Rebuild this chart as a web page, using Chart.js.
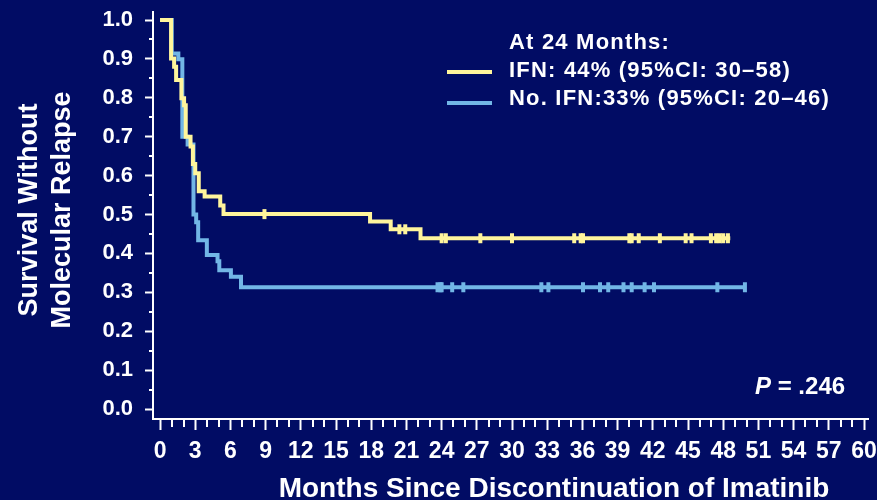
<!DOCTYPE html>
<html><head><meta charset="utf-8">
<script src="https://cdn.jsdelivr.net/npm/chart.js@4.4.1/dist/chart.umd.min.js"></script>
<style>html,body{margin:0;padding:0;background:#010c64;overflow:hidden}#wrap{width:877px;height:500px}</style>
</head><body><div id="wrap"><canvas id="c" width="877" height="500"></canvas></div>
<script>
// ---- data ----
const xTickValues = [0,3,6,9,12,15,18,21,24,27,30,33,36,39,42,45,48,51,54,57,60];
const yTickValues = [0,0.1,0.2,0.3,0.4,0.5,0.6,0.7,0.8,0.9,1.0];

const ifnTimes = [0, 0.94, 1.2, 1.37, 1.82, 2.05, 2.19, 2.6, 2.8, 3.0, 3.3, 3.8, 5.13, 5.41, 17.9, 19.66, 22.2, 48.6];
const ifnSurv  = [1.0, 0.901, 0.880, 0.846, 0.799, 0.781, 0.700, 0.675, 0.630, 0.606, 0.560, 0.546, 0.523, 0.501, 0.482, 0.462, 0.439, 0.439];
const ifnCensor = [8.9, 20.4, 20.9, 24.0, 24.36, 27.3, 30.0, 35.3, 35.85, 36.05, 40.0, 40.2, 40.8, 42.6, 44.8, 45.3, 46.95, 47.4, 47.7, 48.0, 48.4];

const noTimes = [0, 1.0, 1.56, 1.9, 2.35, 2.85, 3.08, 3.25, 3.99, 4.9, 5.05, 6.04, 6.9, 49.85];
const noSurv  = [1.0, 0.914, 0.899, 0.700, 0.680, 0.500, 0.480, 0.434, 0.396, 0.380, 0.357, 0.340, 0.313, 0.313];
const noCensor = [23.65, 23.9, 24.0, 24.9, 25.85, 32.5, 33.1, 36.05, 37.5, 38.2, 39.5, 40.2, 41.3, 42.1, 47.5, 49.85];

const seriesLabels = ['IFN: 44% (95%CI: 30\u201358)', 'No. IFN:33% (95%CI: 20\u201346)'];
const legendHeader = 'At 24 Months:';
const xTitle = 'Months Since Discontinuation of Imatinib';
const yTitle = ['Survival Without', 'Molecular Relapse'];
const pLabel = ['P', ' = .246'];

// ---- styles ----
const BG = '#010c64';
const YELLOW = '#fff59c';
const BLUE = '#72b6e6';
const WHITE = '#ffffff';
const FONT = '"Liberation Sans", Arial, sans-serif';

function survAt(times, surv, t) {
  let s = surv[0];
  for (let i = 0; i < times.length; i++) if (times[i] <= t) s = surv[i];
  return s;
}
const toPts = (ts, ss) => ts.map((t, i) => ({x: t, y: ss[i]}));
const censorPts = (cs, ts, ss) => cs.map(t => ({x: t, y: survAt(ts, ss, t)}));

const bgPlugin = {
  id: 'bg',
  beforeDraw(chart) {
    const c = chart.ctx;
    c.save(); c.fillStyle = BG; c.fillRect(0, 0, chart.width, chart.height); c.restore();
  }
};

const decoPlugin = {
  id: 'deco',
  afterDraw(chart) {
    const c = chart.ctx;
    const xs = chart.scales.x, ys = chart.scales.y;
    const ca = chart.chartArea;
    c.save();
    // minor ticks
    c.strokeStyle = WHITE; c.lineWidth = 2;
    for (let m = 0; m <= 60; m++) {
      if (m % 3 === 0) continue;
      const px = Math.round(xs.getPixelForValue(m));
      c.beginPath(); c.moveTo(px, ca.bottom); c.lineTo(px, ca.bottom + 8); c.stroke();
    }
    for (let k = 0; k < 10; k++) {
      const v = 0.05 + k * 0.1;
      const py = Math.round(ys.getPixelForValue(v));
      c.beginPath(); c.moveTo(ca.left, py); c.lineTo(ca.left - 4, py); c.stroke();
    }
    // axis titles
    c.fillStyle = WHITE;
    c.font = 'bold 28px ' + FONT;
    c.textAlign = 'center'; c.textBaseline = 'alphabetic';
    c.fillText(xTitle, 554, 497);
    c.save();
    c.translate(37, 210); c.rotate(-Math.PI / 2);
    c.font = 'bold 27px ' + FONT;
    c.fillText(yTitle[0], 0, 0);
    c.fillText(yTitle[1], 0, 33);
    c.restore();
    // legend
    c.font = 'bold 22px ' + FONT;
    c.textAlign = 'left';
    try { c.letterSpacing = '1.2px'; } catch (e) {}
    c.fillText(legendHeader, 509, 49);
    const ds = chart.data.datasets;
    const lines = [ds[1], ds[3]];
    const ly = [72, 103], ty = [77, 105];
    lines.forEach((d, i) => {
      c.strokeStyle = d.borderColor; c.lineWidth = 4;
      c.beginPath(); c.moveTo(447, ly[i]); c.lineTo(492, ly[i]); c.stroke();
      c.fillStyle = WHITE;
      c.fillText(d.label, 509, ty[i]);
    });
    try { c.letterSpacing = '0px'; } catch (e) {}
    // p-value
    c.font = 'italic bold 24px ' + FONT;
    c.fillText(pLabel[0], 755, 394);
    const w = c.measureText(pLabel[0]).width;
    c.font = 'bold 24px ' + FONT;
    c.fillText(pLabel[1], 755 + w, 394);
    c.restore();
  }
};

new Chart(document.getElementById('c'), {
  type: 'line',
  data: {
    datasets: [
      { label: 'IFN censored', data: censorPts(ifnCensor, ifnTimes, ifnSurv), showLine: false,
        pointStyle: 'line', rotation: 90, pointRadius: 5, borderWidth: 4, borderColor: YELLOW, backgroundColor: YELLOW },
      { label: seriesLabels[0], data: toPts(ifnTimes, ifnSurv), stepped: true, borderColor: YELLOW,
        borderWidth: 4, pointRadius: 0, fill: false },
      { label: 'No IFN censored', data: censorPts(noCensor, noTimes, noSurv), showLine: false,
        pointStyle: 'line', rotation: 90, pointRadius: 5, borderWidth: 4, borderColor: BLUE, backgroundColor: BLUE },
      { label: seriesLabels[1], data: toPts(noTimes, noSurv), stepped: true, borderColor: BLUE,
        borderWidth: 4, pointRadius: 0, fill: false }
    ]
  },
  options: {
    responsive: false,
    animation: false,
    events: [],
    layout: { padding: { top: 12, right: 9, left: 0, bottom: 0 } },
    plugins: { legend: { display: false }, tooltip: { enabled: false }, title: { display: false } },
    scales: {
      x: {
        type: 'linear', min: -0.6, max: 60.34,
        afterBuildTicks: s => { s.ticks = xTickValues.map(v => ({value: v})); },
        afterFit: s => { s.height = 81; s.paddingRight = 0; s.paddingLeft = 0; },
        grid: { drawOnChartArea: false, drawTicks: true, tickLength: 11, tickWidth: 2, tickColor: WHITE },
        border: { display: true, color: WHITE, width: 2 },
        ticks: { color: WHITE, font: { family: FONT, size: 23, weight: 'bold' }, padding: 8,
                 maxRotation: 0, autoSkip: false, callback: v => String(v) }
      },
      y: {
        type: 'linear', min: -0.0257, max: 1.0206,
        afterBuildTicks: s => { s.ticks = yTickValues.map(v => ({value: v})); },
        afterFit: s => { s.width = 153; s.paddingTop = 0; s.paddingBottom = 0; },
        grid: { drawOnChartArea: false, drawTicks: true, tickLength: 8, tickWidth: 2, tickColor: WHITE },
        border: { display: true, color: WHITE, width: 2 },
        ticks: { color: WHITE, font: { family: FONT, size: 22, weight: 'bold' }, padding: 12,
                 autoSkip: false, callback: v => Number(v).toFixed(1) }
      }
    }
  },
  plugins: [bgPlugin, decoPlugin]
});
</script>
</body></html>
